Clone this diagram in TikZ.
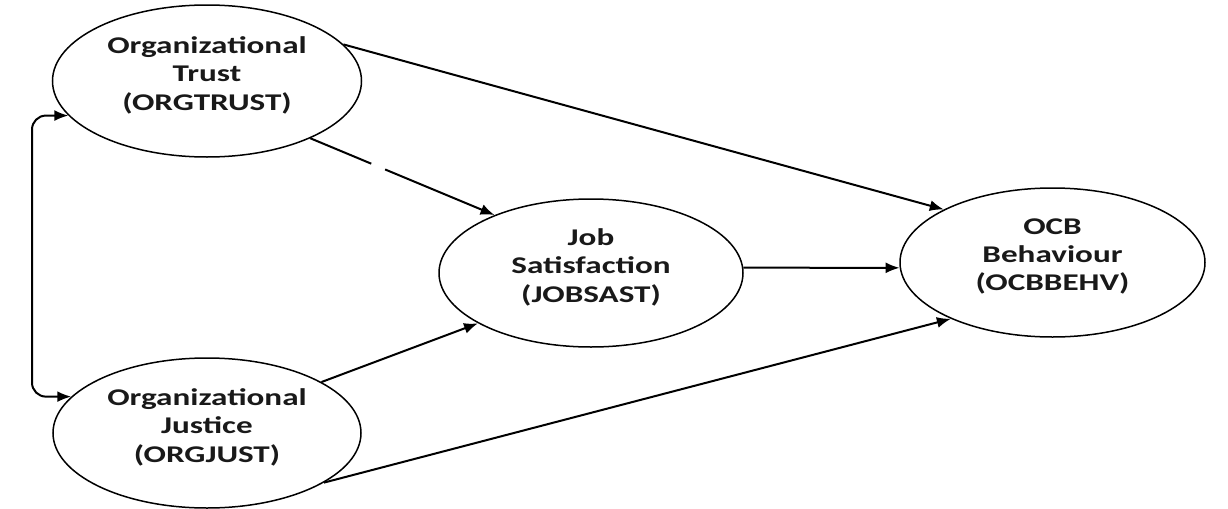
\documentclass[tikz,border=0pt]{standalone}
\usepackage{fontspec}
\setmainfont{Carlito}[FakeStretch=1.38]
\usetikzlibrary{shapes.geometric,arrows.meta}
\tikzset{
  latent/.style={ellipse, draw, line width=0.75pt, inner sep=0pt},
  lbl/.style={align=center, font=\bfseries\fontsize{12pt}{14.2pt}\selectfont, text=black!90},
  conn/.style={line width=1pt, -{Latex[length=7pt,width=5.5pt]}},
  biconn/.style={line width=1pt, {Latex[length=7pt,width=5.5pt]}-{Latex[length=7pt,width=5.5pt]}, rounded corners=7pt},
}
\begin{document}
\begin{tikzpicture}[x=0.5pt,y=-0.5pt]
\useasboundingbox (0,0) rectangle (1228,509);
\node[latent, minimum width=154.5pt, minimum height=76pt] (trust) at (207,81) {};
\node[latent, minimum width=154pt, minimum height=75pt] (just) at (207,433) {};
\node[latent, minimum width=152pt, minimum height=74pt] (job) at (591,273) {};
\node[latent, minimum width=152.5pt, minimum height=74.5pt] (ocb) at (1052.5,262.5) {};
\node[lbl] (trustT) at (207,75) {Organizational\\Trust\\(ORGTRUST)};
\node[lbl] (justT) at (207,427) {Organizational\\Justice\\(ORGJUST)};
\node[lbl] (jobT) at (591,267) {Job\\Satisfaction\\(JOBSAST)};
\node[lbl] (ocbT) at (1052.5,256.5) {OCB\\Behaviour\\(OCBBEHV)};
\coordinate (lft) at (32,250);
\draw[conn] (trust.15.5) -- (ocb.154.7);
\draw[conn, dash pattern=on 33pt off 7.5pt on 300pt] (trust.-29.5) -- (job.149.7);
\draw[conn] (job.2) -- (ocb.182);
\draw[conn] (just.24.3) -- (job.-156.6);
\draw[conn] (just.-23.9) -- (ocb.-151);
\draw[biconn] (trust.-166.4) -| (lft) |- (just.165.9);
\end{tikzpicture}
\end{document}
